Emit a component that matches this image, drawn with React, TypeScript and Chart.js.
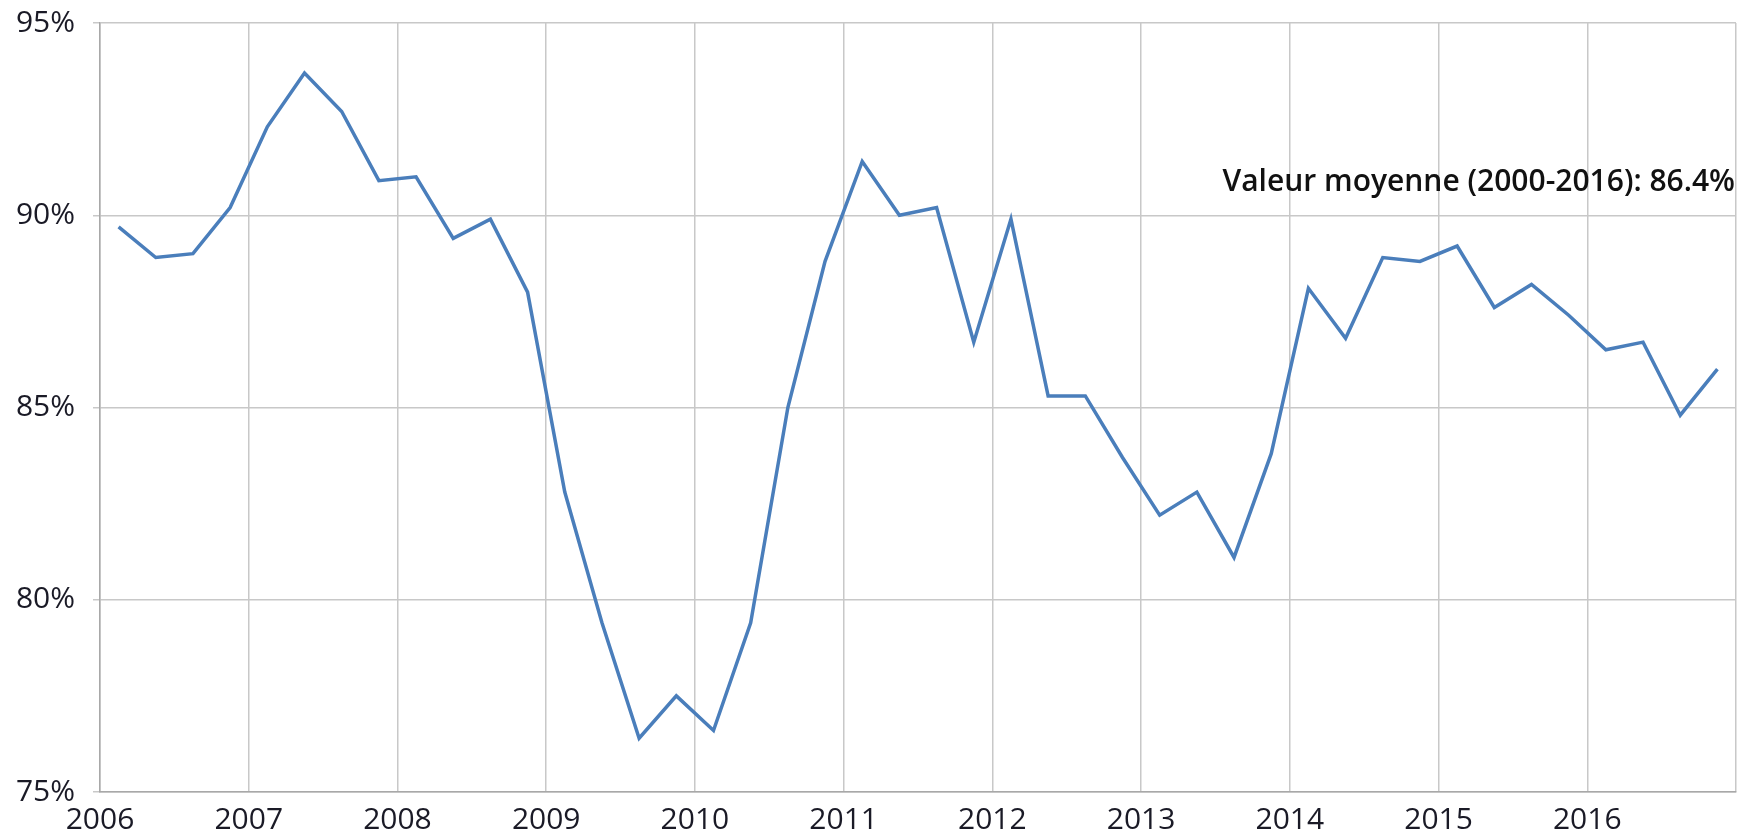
import React, { useEffect, useRef } from "react";
import { Chart, registerables } from "chart.js";

Chart.register(...registerables);

const quartersPerYear = 4;
const yearTicks = ["2006", "2007", "2008", "2009", "2010", "2011", "2012", "2013", "2014", "2015", "2016"];
const utilisation = [
  89.7, 88.9, 89.0, 90.2,
  92.3, 93.7, 92.7, 90.9,
  91.0, 89.4, 89.9, 88.0,
  82.8, 79.4, 76.4, 77.5,
  76.6, 79.4, 85.0, 88.8,
  91.4, 90.0, 90.2, 86.7,
  89.9, 85.3, 85.3, 83.7,
  82.2, 82.8, 81.1, 83.8,
  88.1, 86.8, 88.9, 88.8,
  89.2, 87.6, 88.2, 87.4,
  86.5, 86.7, 84.8, 86.0,
];
const yMin = 75;
const yMax = 95;
const yStep = 5;
const annotationText = "Valeur moyenne (2000-2016): 86.4%";

const FONT = "'Open Sans', 'Noto Sans', sans-serif";

export default function App() {
  const ref = useRef<HTMLCanvasElement | null>(null);

  useEffect(() => {
    document.body.style.margin = "0";
    const canvas = ref.current;
    if (!canvas) return;
    const points = utilisation.map((v, i) => ({ x: i + 0.5, y: v }));
    const nQuarters = yearTicks.length * quartersPerYear;

    const annotationPlugin = {
      id: "meanNote",
      afterDraw(chart: any) {
        const { ctx, chartArea, scales } = chart;
        const y = scales.y.getPixelForValue(90) - 24;
        ctx.save();
        ctx.font = `600 30px ${FONT}`;
        ctx.fillStyle = "#111111";
        ctx.textAlign = "right";
        ctx.textBaseline = "alphabetic";
        ctx.fillText(annotationText, chartArea.right - 1, y);
        ctx.restore();
      },
    };

    const chart = new Chart(canvas, {
      type: "line",
      data: {
        datasets: [
          {
            data: points,
            borderColor: "#4a7ebb",
            borderWidth: 3.5,
            pointRadius: 0,
            tension: 0,
            fill: false,
          },
        ],
      },
      options: {
        animation: false,
        responsive: false,
        maintainAspectRatio: false,
        layout: { padding: { top: 23, right: 4, left: 0, bottom: 0 } },
        plugins: {
          legend: { display: false },
          tooltip: { enabled: false },
        },
        scales: {
          x: {
            type: "linear",
            min: 0,
            max: nQuarters,
            afterFit: (s: any) => {
              s.height = 38;
              s.paddingLeft = 0;
              s.paddingRight = 0;
            },
            ticks: {
              stepSize: quartersPerYear,
              autoSkip: false,
              maxRotation: 0,
              padding: 10,
              color: "#1a1a26",
              font: { family: FONT, size: 30 },
              callback: (v: any) => {
                const idx = Math.round(Number(v) / quartersPerYear);
                return yearTicks[idx] ?? "";
              },
            },
            grid: { color: "#c8c8c8", lineWidth: 1.5, drawTicks: false },
            border: { color: "#a8a8a8", width: 1.5 },
          },
          y: {
            min: yMin,
            max: yMax,
            afterFit: (s: any) => {
              s.width = 100;
              s.paddingTop = 0;
              s.paddingBottom = 0;
            },
            ticks: {
              stepSize: yStep,
              padding: 18,
              color: "#1a1a26",
              font: { family: FONT, size: 30 },
              callback: (v: any) => `${v}%`,
            },
            grid: { color: "#c8c8c8", lineWidth: 1.5, tickLength: 7 },
            border: { color: "#a8a8a8", width: 1.5 },
          },
        },
      },
      plugins: [annotationPlugin],
    });
    return () => chart.destroy();
  }, []);

  return (
    <div style={{ position: "fixed", left: 0, top: 0, width: 1740, height: 830, background: "#fff" }}>
      <canvas ref={ref} width={1740} height={830} style={{ display: "block" }} />
    </div>
  );
}
